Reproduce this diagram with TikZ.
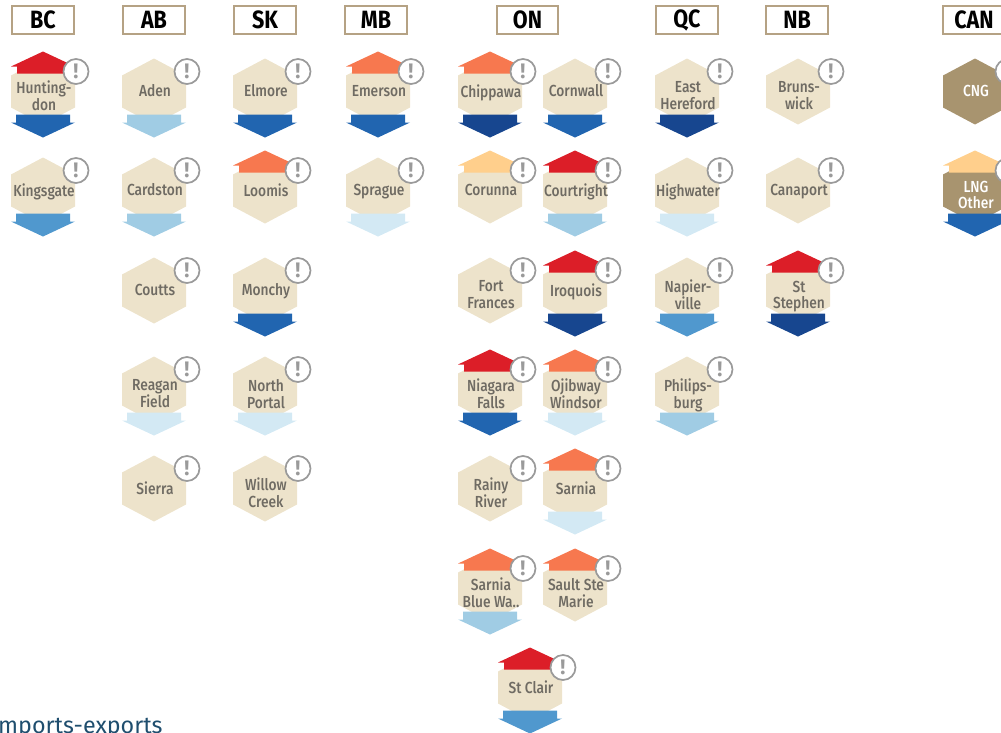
\documentclass[tikz,border=0pt]{standalone}
\usepackage{fontspec}
\setmainfont{Fira Sans}
\newfontfamily\condfont[FakeStretch=0.86]{Fira Sans Medium}
\newfontfamily\condbold[FakeStretch=0.86]{Fira Sans}
\definecolor{hexbeige}{HTML}{EDE3CB}
\definecolor{hexbrown}{HTML}{A8946F}
\definecolor{framec}{HTML}{B5A284}
\definecolor{labelc}{HTML}{6F6B63}
\definecolor{badgec}{HTML}{9A9A9A}
\definecolor{redc}{HTML}{DC1E28}
\definecolor{orangec}{HTML}{F7784F}
\definecolor{peachc}{HTML}{FFCF8C}
\definecolor{navyc}{HTML}{17468F}
\definecolor{bluec}{HTML}{2165B0}
\definecolor{midc}{HTML}{5098CE}
\definecolor{lightc}{HTML}{A0CCE4}
\definecolor{palec}{HTML}{D3E9F4}
\definecolor{linkc}{HTML}{1F4E6E}
\tikzset{
  headbox/.style={draw=framec,line width=1.4pt,fill=white,minimum height=28pt,inner sep=0pt,
    font=\condbold\fontsize{25}{25}\selectfont\bfseries,text=black},
  hexlabel/.style={align=center,inner sep=0pt,text=labelc,font=\condfont\fontsize{16}{16.7}\selectfont},
  badge/.style={circle,draw=badgec,line width=1.7pt,fill=white,minimum size=25pt,inner sep=0pt,
    text=badgec,font=\fontsize{21}{21}\selectfont\bfseries},
}
\def\nonecol{none}
% #1 name, #2 cx, #3 cy, #4 text offset, #5 text, #6 up colour, #7 down colour, #8 hex colour, #9 text colour
\newcommand{\stn}[9]{%
  \begin{scope}[shift={(#2,#3+0.5)}]
    \fill[#8] (0,-33) -- (32,-16) -- (32,16) -- (0,33) -- (-32,16) -- (-32,-16) -- cycle;
    \def\tmpc{#6}\ifx\tmpc\nonecol\else
      \fill[#6] (0,-40) -- (32,-25) -- (26,-25) -- (26,-18) -- (-26,-18) -- (-26,-25) -- (-32,-25) -- cycle;
    \fi
    \def\tmpc{#7}\ifx\tmpc\nonecol\else
      \fill[#7] (-27,23) -- (27,23) -- (27,31) -- (32,31) -- (0,46) -- (-32,31) -- (-27,31) -- cycle;
    \fi
    \node[hexlabel,text=#9] (#1) at (1,#4+1) {\vphantom{Ag}#5\vphantom{Ag}};
    \node[badge] (#1-badge) at (33,-20) {!};
  \end{scope}}
\newcommand{\stb}[7]{\stn{#1}{#2}{#3}{#4}{#5}{#6}{#7}{hexbeige}{labelc}}
\begin{document}
\begin{tikzpicture}[x=1pt,y=-1pt]
\useasboundingbox (0,0) rectangle (1001,732);
\foreach \nm/\xx/\bw/\tx in {bc/43/62/BC,ab/154/62/AB,sk/265/62/SK,mb/376/62/MB,on/527.5/61/ON,qc/687/62/QC,nb/797/62/NB,can/974/62/CAN}
  \node[headbox,minimum width=\bw pt] (\nm) at (\xx,20) {\raisebox{-1pt}{\tx}};
% BC
\stb{hunt}{43}{91}{5}{Hunting-\\don}{redc}{bluec}
\stb{king}{43}{190}{0}{Kingsgate}{none}{midc}
% AB
\stb{aden}{154}{91}{0}{Aden}{none}{lightc}
\stb{card}{154}{190}{0}{Cardston}{none}{lightc}
\stb{cout}{154}{290}{0}{Coutts}{none}{none}
\stb{reag}{154}{389}{5}{Reagan\\Field}{none}{palec}
\stb{sier}{154}{488}{0}{Sierra}{none}{none}
% SK
\stb{elmo}{265}{91}{0}{Elmore}{none}{bluec}
\stb{loom}{265}{190}{0}{Loomis}{orangec}{none}
\stb{monc}{265}{290}{0}{Monchy}{none}{bluec}
\stb{nort}{265}{389}{5}{North\\Portal}{none}{palec}
\stb{will}{265}{488}{5}{Willow\\Creek}{none}{none}
% MB
\stb{emer}{378}{91}{0}{Emerson}{orangec}{bluec}
\stb{spra}{378}{190}{0}{Sprague}{none}{palec}
% ON left
\stb{chip}{490}{91}{0}{Chippawa}{orangec}{navyc}
\stb{coru}{490}{190}{0}{Corunna}{peachc}{none}
\stb{fort}{490}{290}{5}{Fort\\Frances}{none}{none}
\stb{niag}{490}{389}{5}{Niagara\\Falls}{redc}{bluec}
\stb{rain}{490}{488}{5}{Rainy\\River}{none}{none}
\stb{sarb}{490}{588}{5}{Sarnia\\Blue Wa..}{orangec}{lightc}
% ON right
\stb{corn}{575}{91}{0}{Cornwall}{none}{bluec}
\stb{cour}{575}{190}{0}{Courtright}{redc}{lightc}
\stb{iroq}{575}{290}{0}{Iroquois}{redc}{navyc}
\stb{ojib}{575}{389}{5}{Ojibway\\Windsor}{orangec}{palec}
\stb{sarn}{575}{488}{0}{Sarnia}{orangec}{palec}
\stb{saul}{575}{588}{5}{Sault Ste\\Marie}{orangec}{none}
\stb{clai}{530}{687}{0}{St Clair}{redc}{midc}
% QC
\stb{east}{687}{91}{5}{East\\Hereford}{none}{navyc}
\stb{high}{687}{190}{0}{Highwater}{none}{palec}
\stb{napi}{687}{290}{5}{Napier-\\ville}{none}{midc}
\stb{phil}{687}{389}{5}{Philips-\\burg}{none}{lightc}
% NB
\stb{brun}{798}{91}{5}{Bruns-\\wick}{none}{none}
\stb{cana}{798}{190}{0}{Canaport}{none}{none}
\stb{step}{798}{290}{5}{St\\Stephen}{redc}{navyc}
% CAN
\stn{cng}{975}{91}{0}{CNG}{none}{none}{hexbrown}{white}
\stn{lng}{975}{190}{5}{LNG\\Other}{peachc}{bluec}{hexbrown}{white}
\node[anchor=base west,inner sep=0pt,text=linkc,font=\fontsize{23.3}{23.3}\selectfont] (lnk) at (-2,733) {mports-exports};
\end{tikzpicture}
\end{document}
